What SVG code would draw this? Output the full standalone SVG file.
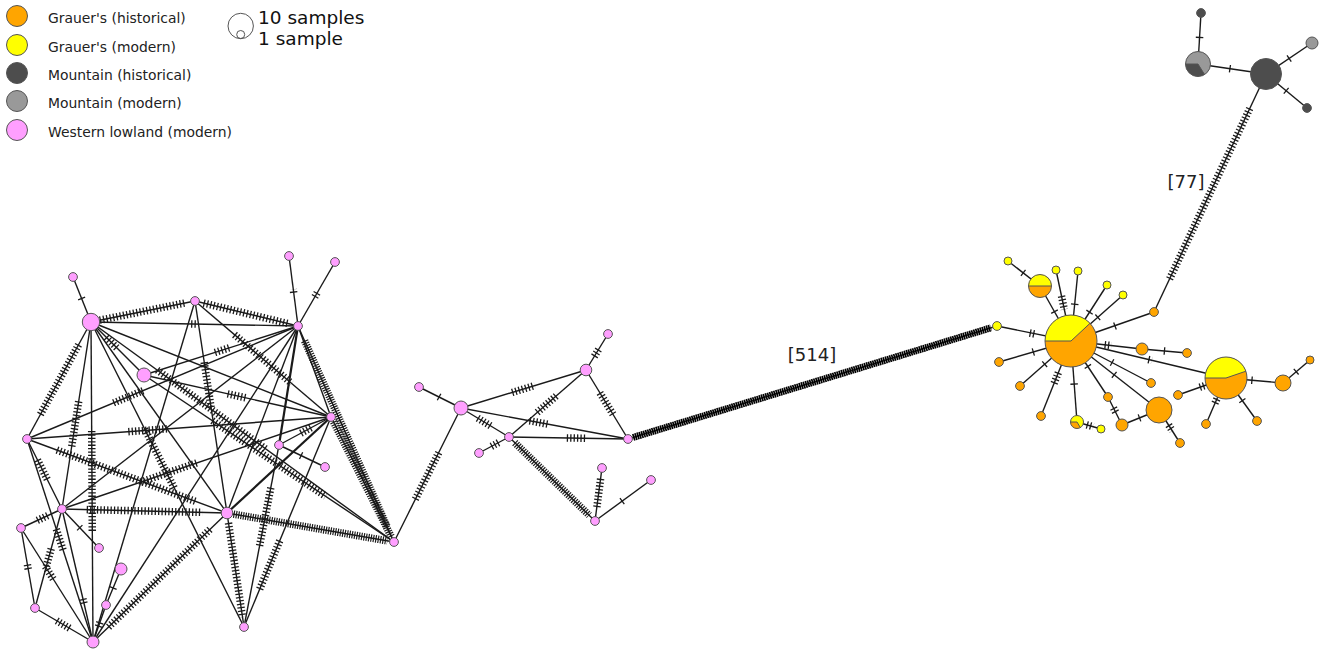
<svg xmlns="http://www.w3.org/2000/svg" width="1327" height="650" viewBox="0 0 1327 650">
<style>
.e{stroke:#1a1a1a;stroke-width:1.4;fill:none}
.eb{stroke:#1a1a1a;stroke-width:2.2;fill:none}
.tk{stroke:#1a1a1a;stroke-width:7.5;stroke-dasharray:1.3 2.1;fill:none}
.th{stroke:#1a1a1a;stroke-width:7.5;stroke-dasharray:1.2 1.2;fill:none}
.band{stroke:#000;stroke-width:7;stroke-dasharray:1.7 0.5;fill:none}
.n{stroke:#555;stroke-width:1}
.pk{fill:#ff9fff}
.or{fill:#ffa500}
.ye{fill:#ffff00}
.dk{fill:#4d4d4d}
.lg{fill:#999999}
.sp{stroke:#555;stroke-width:1;fill:none}
.lt{font-family:"DejaVu Sans",Verdana,sans-serif;font-size:13.9px;fill:#222}
.bt{font-family:"DejaVu Sans",Verdana,sans-serif;font-size:18.5px;fill:#111}
.lab{font-family:"DejaVu Sans",Verdana,sans-serif;font-size:18px;fill:#222;text-anchor:middle}
</style>
<rect width="1327" height="650" fill="#fff"/>
<g id="legend">
<circle class="n or" cx="17" cy="16" r="10.5"/><text class="lt" x="48" y="23">Grauer's (historical)</text>
<circle class="n ye" cx="17" cy="45" r="10.5"/><text class="lt" x="48" y="52">Grauer's (modern)</text>
<circle class="n dk" cx="17" cy="73" r="10.5"/><text class="lt" x="48" y="80">Mountain (historical)</text>
<circle class="n lg" cx="17" cy="101" r="10.5"/><text class="lt" x="48" y="108">Mountain (modern)</text>
<circle class="n pk" cx="17" cy="130" r="10.5"/><text class="lt" x="48" y="137">Western lowland (modern)</text>
<circle class="sp" cx="240.7" cy="26" r="12.7"/>
<circle class="sp" cx="240.7" cy="34.5" r="4"/>
<text class="bt" x="258" y="24">10 samples</text>
<text class="bt" x="258" y="45">1 sample</text>
</g>
<g id="connectors">
<line class="e" x1="91" y1="322" x2="331" y2="417"/>
<line class="e" x1="91" y1="322" x2="227" y2="513"/>
<line class="e" x1="195" y1="301" x2="93" y2="642"/>
<line class="e" x1="298" y1="326" x2="331" y2="417"/>
<line class="e" x1="298" y1="326" x2="62" y2="509"/>
<line class="e" x1="298" y1="326" x2="227" y2="513"/>
<line class="e" x1="298" y1="326" x2="93" y2="642"/>
<line class="eb" x1="331" y1="417" x2="227" y2="513"/>
<line class="eb" x1="298" y1="326" x2="279" y2="445"/>
<line class="e" x1="73" y1="277" x2="91" y2="322"/><path class="tk" d="M81.4,297.9L82.6,301.1"/>
<line class="e" x1="91" y1="322" x2="195" y2="301"/><path class="tk" d="M99.7,320.2L186.3,302.7"/>
<line class="e" x1="91" y1="322" x2="298" y2="326"/><path class="tk" d="M191.1,323.9L197.9,324.1"/>
<line class="e" x1="91" y1="322" x2="27" y2="439"/><path class="tk" d="M78.6,344.7L39.4,416.3"/>
<line class="e" x1="91" y1="322" x2="62" y2="509"/><path class="tk" d="M78.7,401.4L71.4,448.4"/>
<line class="e" x1="91" y1="322" x2="93" y2="642"/><path class="tk" d="M91.7,431L92.3,533"/>
<line class="e" x1="91" y1="322" x2="144" y2="375"/><path class="tk" d="M106.2,337.2L118.2,349.2"/>
<line class="e" x1="91" y1="322" x2="244" y2="627"/><path class="tk" d="M144.7,428.9L175.1,489.7"/>
<line class="e" x1="91" y1="322" x2="394" y2="542"/><path class="tk" d="M157.2,370L267.2,450"/>
<line class="e" x1="195" y1="301" x2="298" y2="326"/><path class="tk" d="M203.6,303.1L289.4,323.9"/>
<line class="e" x1="195" y1="301" x2="331" y2="417"/><path class="tk" d="M234.5,334.7L291.5,383.3"/>
<line class="e" x1="195" y1="301" x2="227" y2="513"/><path class="tk" d="M204.2,362.3L211.4,409.3"/>
<line class="e" x1="298" y1="326" x2="289" y2="256"/><path class="tk" d="M293.7,292.7L293.3,289.3"/>
<line class="e" x1="298" y1="326" x2="335" y2="262"/><path class="tk" d="M314.8,296.9L318.2,291.1"/>
<line class="e" x1="298" y1="326" x2="394" y2="542"/><path class="th" d="M304.6,340.8L387.4,527.2"/>
<line class="e" x1="331" y1="417" x2="394" y2="542"/><path class="th" d="M333.5,421.8L391.5,537.2"/>
<line class="e" x1="298" y1="326" x2="144" y2="375"/><path class="tk" d="M229.1,347.9L212.9,353.1"/>
<line class="e" x1="298" y1="326" x2="27" y2="439"/><path class="tk" d="M143,390.7L111.6,403.7"/>
<line class="e" x1="144" y1="375" x2="394" y2="542"/><path class="tk" d="M212.4,420.7L325.6,496.3"/>
<line class="e" x1="144" y1="375" x2="331" y2="417"/><path class="tk" d="M227.6,393.8L247.5,398.2"/>
<line class="e" x1="27" y1="439" x2="331" y2="417"/><path class="tk" d="M128.3,431.7L168.9,428.7"/>
<line class="e" x1="27" y1="439" x2="227" y2="513"/><path class="tk" d="M56.9,450L197.1,502"/>
<line class="e" x1="27" y1="439" x2="62" y2="509"/><path class="tk" d="M37.5,459.9L48.1,481.1"/>
<line class="e" x1="27" y1="439" x2="93" y2="642"/><path class="tk" d="M56.3,529.2L63.7,551.8"/>
<line class="e" x1="331" y1="417" x2="279" y2="445"/><path class="tk" d="M311,427.8L299,434.2"/>
<line class="e" x1="279" y1="445" x2="325" y2="467"/><path class="tk" d="M300.5,455.3L303.5,456.7"/>
<line class="e" x1="227" y1="513" x2="394" y2="542"/><path class="th" d="M233.5,514.1L387.5,540.9"/>
<line class="e" x1="227" y1="513" x2="244" y2="627"/><path class="tk" d="M228.5,522.9L242.5,617.1"/>
<line class="e" x1="244" y1="627" x2="331" y2="417"/><path class="tk" d="M259.7,589.1L280.5,538.9"/>
<line class="e" x1="279" y1="445" x2="244" y2="627"/><path class="tk" d="M270.8,487.8L259.2,547.8"/>
<line class="e" x1="62" y1="509" x2="227" y2="513"/><path class="tk" d="M86.7,509.6L202.3,512.4"/>
<line class="e" x1="62" y1="509" x2="21" y2="528"/><path class="tk" d="M47.7,515.6L35.3,521.4"/>
<line class="e" x1="62" y1="509" x2="99" y2="548"/><path class="tk" d="M79.3,527.3L81.7,529.7"/>
<line class="e" x1="62" y1="509" x2="35" y2="608"/><path class="tk" d="M51.2,548.7L45.8,568.3"/>
<line class="e" x1="62" y1="509" x2="93" y2="642"/><path class="tk" d="M82.9,598.8L84.5,605.4"/>
<line class="e" x1="21" y1="528" x2="35" y2="608"/><path class="tk" d="M27.4,564.6L28.6,571.4"/>
<line class="e" x1="21" y1="528" x2="93" y2="642"/><path class="tk" d="M45.3,566.4L54.3,580.8"/>
<line class="e" x1="35" y1="608" x2="93" y2="642"/><path class="tk" d="M56.7,620.7L71.3,629.3"/>
<line class="e" x1="93" y1="642" x2="106" y2="605"/><path class="tk" d="M98.4,626.7L100.6,620.3"/>
<line class="e" x1="106" y1="605" x2="121" y2="569"/><path class="tk" d="M112.9,588.6L114.2,585.4"/>
<line class="e" x1="93" y1="642" x2="227" y2="513"/><path class="tk" d="M108.6,627L211.4,528"/>
<line class="e" x1="62" y1="509" x2="331" y2="417"/><path class="tk" d="M140.7,482.1L198.5,462.3"/>
<line class="e" x1="394" y1="542" x2="461" y2="408"/><path class="tk" d="M415.3,499.3L439.7,450.7"/>
<line class="e" x1="419" y1="387" x2="461" y2="408"/><path class="tk" d="M438.5,396.7L441.5,398.3"/>
<line class="e" x1="461" y1="408" x2="586" y2="370"/><path class="tk" d="M512.1,392.5L534.9,385.5"/>
<line class="e" x1="461" y1="408" x2="628" y2="439"/><path class="tk" d="M529.5,420.7L549.5,424.5"/>
<line class="e" x1="461" y1="408" x2="509" y2="437"/><path class="tk" d="M477.7,418.1L492.3,426.9"/>
<line class="e" x1="509" y1="437" x2="586" y2="370"/><path class="tk" d="M537.2,412.4L557.8,394.6"/>
<line class="e" x1="509" y1="437" x2="628" y2="439"/><path class="tk" d="M566.8,437.9L587.2,438.3"/>
<line class="e" x1="509" y1="437" x2="479" y2="453"/><path class="tk" d="M498.5,442.6L489.5,447.4"/>
<line class="e" x1="509" y1="437" x2="595" y2="521"/><path class="th" d="M514.8,442.7L589.2,515.3"/>
<line class="e" x1="586" y1="370" x2="608" y2="334"/><path class="tk" d="M594.3,356.4L599.7,347.7"/>
<line class="e" x1="586" y1="370" x2="628" y2="439"/><path class="tk" d="M599.9,392.9L614.1,416.1"/>
<line class="e" x1="595" y1="521" x2="602" y2="468"/><path class="tk" d="M596.9,507.1L600.9,476.7"/>
<line class="e" x1="595" y1="521" x2="651" y2="480"/><path class="tk" d="M621.6,501.5L624.4,499.5"/>
<line class="e" x1="628" y1="439" x2="997" y2="326"/><path class="band" d="M633,437.5L991,327.8"/>
<line class="e" x1="997" y1="326" x2="1071" y2="341"/><path class="tk" d="M1029.7,333L1036.3,334.4"/>
<line class="e" x1="1008" y1="261" x2="1040" y2="286"/><path class="tk" d="M1022.7,272.5L1025.3,274.5"/>
<line class="e" x1="1040" y1="286" x2="1071" y2="341"/><path class="tk" d="M1054.2,311L1055.8,314"/>
<line class="e" x1="1056" y1="270" x2="1071" y2="341"/><path class="tk" d="M1061.5,296L1064.3,309.4"/>
<line class="e" x1="1078" y1="271" x2="1071" y2="341"/><path class="tk" d="M1074.8,303.6L1074.4,307"/>
<line class="e" x1="1107" y1="285" x2="1071" y2="341"/><path class="tk" d="M1089.9,311.6L1088.1,314.4"/>
<line class="e" x1="1123" y1="295" x2="1071" y2="341"/><path class="tk" d="M1098.3,316.9L1095.7,319.1"/>
<line class="e" x1="1154" y1="312" x2="1071" y2="341"/><path class="tk" d="M1115.6,325.7L1112.4,326.9"/>
<line class="e" x1="1154" y1="312" x2="1266" y2="74"/><path class="tk" d="M1169.6,278.9L1250.4,107.1"/>
<line class="e" x1="999" y1="362" x2="1071" y2="341"/><path class="tk" d="M1032.7,352.2L1035.9,351.2"/>
<line class="e" x1="1020" y1="386" x2="1071" y2="341"/><path class="tk" d="M1044.2,364.6L1046.8,362.4"/>
<line class="e" x1="1041" y1="416" x2="1071" y2="341"/><path class="tk" d="M1054.1,383.3L1059.1,370.7"/>
<line class="e" x1="1077" y1="422" x2="1071" y2="341"/><path class="tk" d="M1074.2,384.7L1074,381.3"/>
<line class="e" x1="1077" y1="422" x2="1101" y2="429"/><path class="tk" d="M1086.7,424.8L1093.3,426.7"/>
<line class="e" x1="1071" y1="341" x2="1108" y2="397"/><path class="tk" d="M1087.5,365.9L1089.3,368.7"/>
<line class="e" x1="1108" y1="397" x2="1122" y2="425"/><path class="tk" d="M1113.5,408L1116.5,414"/>
<line class="e" x1="1122" y1="425" x2="1159" y2="410"/><path class="tk" d="M1138.9,418.1L1142.1,416.9"/>
<line class="e" x1="1071" y1="341" x2="1159" y2="410"/><path class="tk" d="M1113.7,374.4L1116.3,376.5"/>
<line class="e" x1="1159" y1="410" x2="1180" y2="443"/><path class="tk" d="M1168.7,425.1L1172.3,430.9"/>
<line class="e" x1="1071" y1="341" x2="1151" y2="383"/><path class="tk" d="M1111.5,362.2L1114.5,363.8"/>
<line class="e" x1="1071" y1="341" x2="1142" y2="349"/><path class="tk" d="M1104.6,344.8L1111.4,345.6"/>
<line class="e" x1="1142" y1="349" x2="1187" y2="353"/><path class="tk" d="M1163.8,350.9L1167.2,351.2"/>
<line class="e" x1="1071" y1="341" x2="1226" y2="378"/><path class="tk" d="M1148.3,359.5L1151.7,360.3"/>
<line class="e" x1="1226" y1="378" x2="1178" y2="395"/><path class="tk" d="M1204.2,385.8L1197.8,388"/>
<line class="e" x1="1226" y1="378" x2="1206" y2="424"/><path class="tk" d="M1216.9,398.9L1214.1,405.1"/>
<line class="e" x1="1226" y1="378" x2="1257" y2="421"/><path class="tk" d="M1242,400.1L1244,402.9"/>
<line class="e" x1="1226" y1="378" x2="1283" y2="383"/><path class="tk" d="M1251.3,380.2L1254.7,380.5"/>
<line class="e" x1="1283" y1="383" x2="1310" y2="360"/><path class="tk" d="M1295.7,372.1L1298.3,369.9"/>
<line class="e" x1="1201" y1="13" x2="1198" y2="64"/><path class="tk" d="M1199.6,36.8L1199.4,40.2"/>
<line class="e" x1="1198" y1="64" x2="1266" y2="74"/><path class="tk" d="M1229.3,68.6L1232.7,69.1"/>
<line class="e" x1="1266" y1="74" x2="1312" y2="43"/><path class="tk" d="M1288.6,58.8L1291.4,56.9"/>
<line class="e" x1="1266" y1="74" x2="1307" y2="108"/><path class="tk" d="M1285.7,90.3L1288.3,92.5"/>
<text class="lab" x="812" y="361">[514]</text>
<text class="lab" x="1186" y="188">[77]</text>
</g>
<g id="nodes-left">
<g id="nA"><circle class="n pk" cx="73" cy="277" r="4.4"/></g>
<g id="nB"><circle class="n pk" cx="91" cy="322" r="8.7"/></g>
<g id="nC"><circle class="n pk" cx="195" cy="301" r="4.4"/></g>
<g id="nD"><circle class="n pk" cx="298" cy="326" r="4.4"/></g>
<g id="nE"><circle class="n pk" cx="289" cy="256" r="4.4"/></g>
<g id="nF"><circle class="n pk" cx="335" cy="262" r="4.4"/></g>
<g id="nG"><circle class="n pk" cx="144" cy="375" r="7"/></g>
<g id="nH"><circle class="n pk" cx="27" cy="439" r="4.4"/></g>
<g id="nI"><circle class="n pk" cx="331" cy="417" r="4.4"/></g>
<g id="nJ"><circle class="n pk" cx="279" cy="445" r="4.4"/></g>
<g id="nK"><circle class="n pk" cx="325" cy="467" r="4.4"/></g>
<g id="nL"><circle class="n pk" cx="62" cy="509" r="4.4"/></g>
<g id="nM"><circle class="n pk" cx="227" cy="513" r="5.8"/></g>
<g id="nN"><circle class="n pk" cx="99" cy="548" r="4.4"/></g>
<g id="nO"><circle class="n pk" cx="121" cy="569" r="6"/></g>
<g id="nP"><circle class="n pk" cx="106" cy="605" r="4.4"/></g>
<g id="nQ"><circle class="n pk" cx="21" cy="528" r="4.4"/></g>
<g id="nR"><circle class="n pk" cx="35" cy="608" r="4.4"/></g>
<g id="nS"><circle class="n pk" cx="93" cy="642" r="6"/></g>
<g id="nT"><circle class="n pk" cx="244" cy="627" r="4.4"/></g>
<g id="nU"><circle class="n pk" cx="394" cy="542" r="4.4"/></g>
</g>
<g id="nodes-middle">
<g id="nV"><circle class="n pk" cx="461" cy="408" r="7"/></g>
<g id="nW"><circle class="n pk" cx="419" cy="387" r="4.4"/></g>
<g id="nX"><circle class="n pk" cx="586" cy="370" r="5.8"/></g>
<g id="nY"><circle class="n pk" cx="608" cy="334" r="4.4"/></g>
<g id="nZ"><circle class="n pk" cx="509" cy="437" r="4.4"/></g>
<g id="nAA"><circle class="n pk" cx="479" cy="453" r="4.4"/></g>
<g id="nAB"><circle class="n pk" cx="628" cy="439" r="4.4"/></g>
<g id="nAC"><circle class="n pk" cx="595" cy="521" r="4.4"/></g>
<g id="nAD"><circle class="n pk" cx="602" cy="468" r="4.4"/></g>
<g id="nAE"><circle class="n pk" cx="651" cy="480" r="4.4"/></g>
</g>
<g id="nodes-right">
<g id="r0"><circle class="n ye" cx="997" cy="326" r="4.4"/></g>
<g id="p1"><circle class="or" cx="1071" cy="341" r="26"/><path class="ye" d="M1071,341L1045,341A26,26 0 0,1 1090,323.3Z"/><path class="sp" d="M1045,341L1071,341L1090,323.3"/><circle class="sp" cx="1071" cy="341" r="26"/></g>
<g id="p2"><circle class="or" cx="1040" cy="286" r="11.5"/><path class="ye" d="M1028.5,286A11.5,11.5 0 0,1 1051.5,286Z"/><path class="sp" d="M1028.5,286L1051.5,286"/><circle class="sp" cx="1040" cy="286" r="11.5"/></g>
<g id="r1"><circle class="n ye" cx="1008" cy="261" r="4"/></g>
<g id="r2"><circle class="n ye" cx="1056" cy="270" r="4"/></g>
<g id="r3"><circle class="n ye" cx="1078" cy="271" r="4"/></g>
<g id="r4"><circle class="n ye" cx="1107" cy="285" r="4"/></g>
<g id="r5"><circle class="n ye" cx="1123" cy="295" r="4"/></g>
<g id="r6"><circle class="n or" cx="1154" cy="312" r="4.4"/></g>
<g id="r7"><circle class="n or" cx="999" cy="362" r="4.4"/></g>
<g id="r8"><circle class="n or" cx="1020" cy="386" r="4.4"/></g>
<g id="r9"><circle class="n or" cx="1041" cy="416" r="4.4"/></g>
<g id="p3"><circle class="ye" cx="1077" cy="422" r="6.5"/><path class="or" d="M1077,422L1080.3,427.6A6.5,6.5 0 0,1 1070.5,422Z"/><path class="sp" d="M1070.5,422L1077,422L1080.3,427.6"/><circle class="sp" cx="1077" cy="422" r="6.5"/></g>
<g id="r10"><circle class="n ye" cx="1101" cy="429" r="4"/></g>
<g id="r11"><circle class="n or" cx="1108" cy="397" r="4.4"/></g>
<g id="r12"><circle class="n or" cx="1122" cy="425" r="6"/></g>
<g id="bo"><circle class="n or" cx="1159" cy="410" r="13"/></g>
<g id="r13"><circle class="n or" cx="1180" cy="443" r="4.4"/></g>
<g id="r14"><circle class="n or" cx="1151" cy="383" r="4.4"/></g>
<g id="r15"><circle class="n or" cx="1142" cy="349" r="6"/></g>
<g id="r16"><circle class="n or" cx="1187" cy="353" r="4.4"/></g>
<g id="p4"><circle class="or" cx="1226" cy="378" r="21"/><path class="ye" d="M1226,378L1205,378A21,21 0 0,1 1245.9,371.2Z"/><path class="sp" d="M1205,378L1226,378L1245.9,371.2"/><circle class="sp" cx="1226" cy="378" r="21"/></g>
<g id="r17"><circle class="n or" cx="1178" cy="395" r="4.4"/></g>
<g id="r18"><circle class="n or" cx="1206" cy="424" r="4.4"/></g>
<g id="r19"><circle class="n or" cx="1257" cy="421" r="4.4"/></g>
<g id="r20"><circle class="n or" cx="1283" cy="383" r="8"/></g>
<g id="r21"><circle class="n or" cx="1310" cy="360" r="4"/></g>
</g>
<g id="nodes-top">
<g id="t1"><circle class="n dk" cx="1201" cy="13" r="4.4"/></g>
<g id="tp"><circle class="lg" cx="1198" cy="64" r="12.5"/><path class="dk" d="M1198,64L1204.6,74.6A12.5,12.5 0 0,1 1185.5,64Z"/><path class="sp" d="M1185.5,64L1198,64L1204.6,74.6"/><circle class="sp" cx="1198" cy="64" r="12.5"/></g>
<g id="td"><circle class="n dk" cx="1266" cy="74" r="15.5"/></g>
<g id="tg"><circle class="n lg" cx="1312" cy="43" r="6"/></g>
<g id="tk"><circle class="n dk" cx="1307" cy="108" r="4.4"/></g>
</g>
</svg>
